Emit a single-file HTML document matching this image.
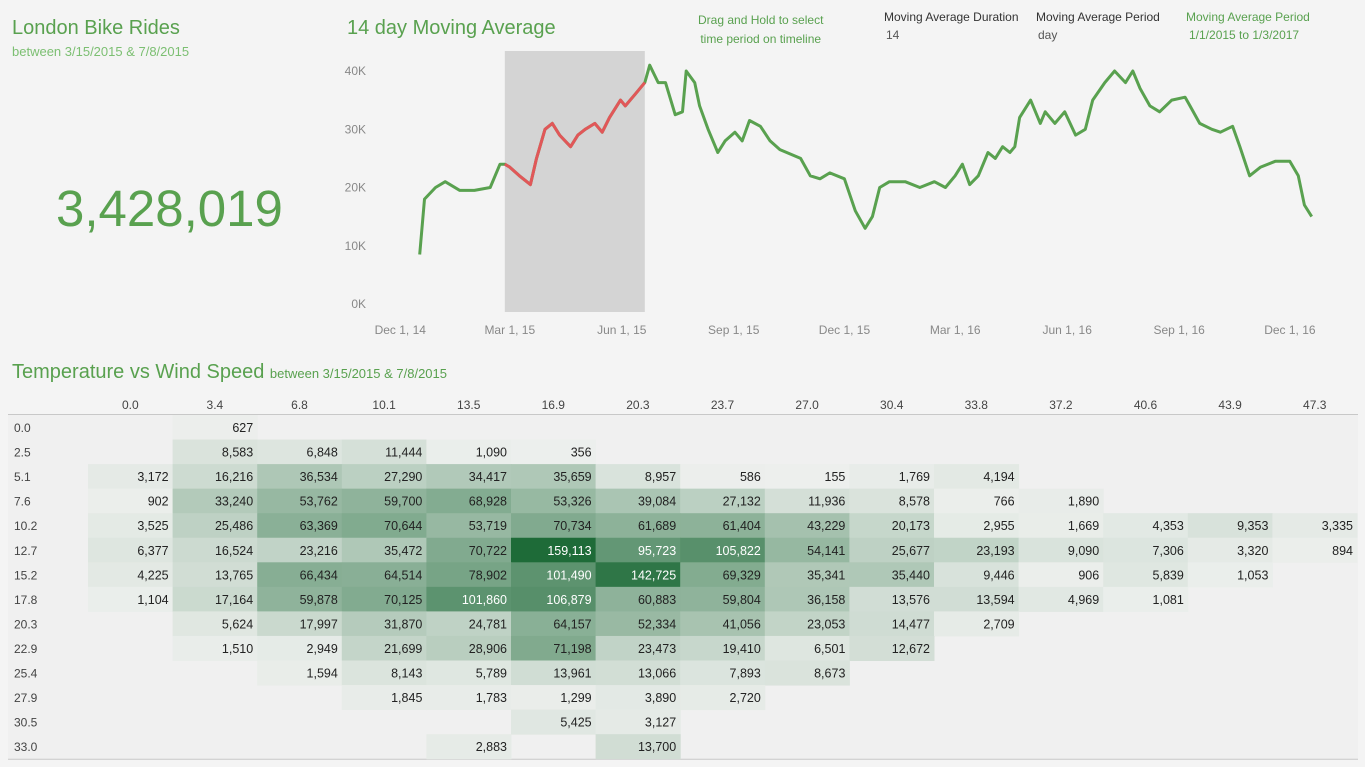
<!DOCTYPE html>
<html><head><meta charset="utf-8">
<style>
body{margin:0;width:1365px;height:767px;background:#f4f4f4;font-family:"Liberation Sans",sans-serif;overflow:hidden;position:relative}
.t{position:absolute;white-space:nowrap}
.g{color:#59a14f}
</style></head><body>
<div class="t g" style="left:12px;top:17px;font-size:20px">London Bike Rides</div>
<div class="t g" style="left:12px;top:44px;font-size:13px;color:#7cbf72">between 3/15/2015 &amp; 7/8/2015</div>
<div class="t g" style="left:56px;top:179px;font-size:51px">3,428,019</div>
<div class="t g" style="left:347px;top:17px;font-size:20px">14 day Moving Average</div>
<div class="t g" style="left:698px;top:11px;font-size:12px;text-align:center;line-height:19px">Drag and Hold to select<br>time period on timeline</div>
<div class="t" style="left:884px;top:10px;font-size:12px;color:#333">Moving Average Duration</div>
<div class="t" style="left:886px;top:28px;font-size:12px;color:#555">14</div>
<div class="t" style="left:1036px;top:10px;font-size:12px;color:#333">Moving Average Period</div>
<div class="t" style="left:1038px;top:28px;font-size:12px;color:#555">day</div>
<div class="t g" style="left:1186px;top:10px;font-size:12px">Moving Average Period</div>
<div class="t g" style="left:1189px;top:28px;font-size:12px">1/1/2015 to 1/3/2017</div>

<svg id="line" width="1365" height="345" style="position:absolute;left:0;top:0"></svg>

<div class="t g" style="left:12px;top:361px;font-size:20px">Temperature vs Wind Speed <span style="font-size:13px">between 3/15/2015 &amp; 7/8/2015</span></div>
<svg id="heat" width="1365" height="767" style="position:absolute;left:0;top:0"></svg>

<script>
const NS="http://www.w3.org/2000/svg";
// line chart data: day offset from 1/1/2015, value
const days=[3,7,16,24,36,48,61,69,73,77,85,94,99,106,112,118,127,133,139,147,153,159,168,172,180,188,192,199,205,213,219,222,229,233,240,248,254,262,268,274,283,291,299,316,324,332,340,352,361,369,375,381,389,402,414,426,435,443,449,455,462,470,476,482,488,492,496,505,513,517,525,533,542,550,556,566,574,583,589,595,603,611,621,632,636,644,654,661,671,677,685,694,706,718,725,730,736];
const vals=[8500,18000,20000,21000,19500,19500,20000,24000,24000,23500,22000,20500,25000,30000,31000,29000,27000,29000,30000,31000,29500,32000,35000,34000,36000,38000,41000,38000,38000,32500,33000,40000,38000,34000,30000,26000,28000,29500,28000,31500,30500,28000,26500,25000,22000,21500,22500,21500,16000,13000,15000,20000,21000,21000,20000,21000,20000,22000,24000,20500,22000,26000,25000,27000,26000,27000,32000,35000,31000,33000,31000,33000,29000,30000,35000,38000,40000,38000,40000,37000,34000,33000,35000,35500,34000,31000,30000,29500,30500,27000,22000,23500,24500,24500,22000,17000,15000];
const yTicks=[0,10000,20000,30000,40000];
const xTickLabels=["Dec 1, 14","Mar 1, 15","Jun 1, 15","Sep 1, 15","Dec 1, 15","Mar 1, 16","Jun 1, 16","Sep 1, 16","Dec 1, 16"];
const xTickDays=[-31,59,151,243,334,425,517,609,700];
const selStart=73, selEnd=188;
const X=d=>416+d*1.217, Y=v=>304-v*0.005825;
const L=document.getElementById('line');
function mk(p,tag,attrs,txt){const e=document.createElementNS(NS,tag);for(const k in attrs)e.setAttribute(k,attrs[k]);if(txt!=null)e.textContent=txt;p.appendChild(e);return e;}
let r=mk(L,'rect',{x:X(selStart),y:51,width:X(selEnd)-X(selStart),height:261,fill:'#d4d4d4'});


yTicks.forEach(v=>{let t=mk(L,'text',{x:366,y:Y(v)+4,'text-anchor':'end','font-size':12,fill:'#888','font-family':'Liberation Sans'},(v/1000)+'K');

});
xTickLabels.forEach((s,i)=>{let t=mk(L,'text',{x:X(xTickDays[i])+22,y:334,'text-anchor':'middle','font-size':12,fill:'#888','font-family':'Liberation Sans'},s);

});
let dAll=days.map((d,i)=>(i?'L':'M')+X(d).toFixed(1)+','+Y(vals[i]).toFixed(1)).join('');
let p=mk(L,'path',{d:dAll,fill:'none',stroke:'#59a14f','stroke-width':3,'stroke-linejoin':'round'});


let sel=[];days.forEach((d,i)=>{if(d>=selStart&&d<=selEnd)sel.push(X(d).toFixed(1)+','+Y(vals[i]).toFixed(1));});
let p2=mk(L,'path',{d:'M'+sel.join('L'),fill:'none',stroke:'#e15759','stroke-width':3,'stroke-linejoin':'round'});



// heatmap
const colLabels=["0.0","3.4","6.8","10.1","13.5","16.9","20.3","23.7","27.0","30.4","33.8","37.2","40.6","43.9","47.3"];
const rowLabels=["0.0","2.5","5.1","7.6","10.2","12.7","15.2","17.8","20.3","22.9","25.4","27.9","30.5","33.0"];
const N=null;
const cells=[
[N,627],
[N,8583,6848,11444,1090,356],
[3172,16216,36534,27290,34417,35659,8957,586,155,1769,4194],
[902,33240,53762,59700,68928,53326,39084,27132,11936,8578,766,1890],
[3525,25486,63369,70644,53719,70734,61689,61404,43229,20173,2955,1669,4353,9353,3335],
[6377,16524,23216,35472,70722,159113,95723,105822,54141,25677,23193,9090,7306,3320,894],
[4225,13765,66434,64514,78902,101490,142725,69329,35341,35440,9446,906,5839,1053],
[1104,17164,59878,70125,101860,106879,60883,59804,36158,13576,13594,4969,1081],
[N,5624,17997,31870,24781,64157,52334,41056,23053,14477,2709],
[N,1510,2949,21699,28906,71198,23473,19410,6501,12672],
[N,N,1594,8143,5789,13961,13066,7893,8673],
[N,N,N,1845,1783,1299,3890,2720],
[N,N,N,N,N,5425,3127],
[N,N,N,N,2883,N,13700]];
const H=document.getElementById('heat');
const cx0=88,cw=84.6,ry0=415,rh=24.55;
mk(H,'rect',{x:8,y:ry0,width:1350,height:rh*14,fill:'#f0f0f0'});
mk(H,'line',{x1:8,x2:1358,y1:ry0-0.5,y2:ry0-0.5,stroke:'#c8c8c8'});
mk(H,'line',{x1:8,x2:1358,y1:ry0+rh*14+0.5,y2:ry0+rh*14+0.5,stroke:'#c8c8c8'});
const mx=Math.max(...cells.flat().filter(v=>v!=null));
const lo=[238,240,238],hi=[30,107,56];
colLabels.forEach((s,i)=>{let t=mk(H,'text',{x:cx0+cw*i+cw/2,y:409,'text-anchor':'middle','font-size':12,fill:'#444','font-family':'Liberation Sans'},s);

});
rowLabels.forEach((s,j)=>{let t=mk(H,'text',{x:14,y:ry0+rh*j+17,'font-size':12,fill:'#444','font-family':'Liberation Sans'},s);

});
cells.forEach((row,j)=>row.forEach((v,i)=>{if(v==null)return;
 const t=Math.pow(v/mx,0.8);const c=lo.map((a,k)=>Math.round(a+(hi[k]-a)*t));
 let rc=mk(H,'rect',{x:cx0+cw*i,y:ry0+rh*j,width:cw+0.5,height:rh+0.5,fill:`rgb(${c})`});
 
 
 let tx=mk(H,'text',{x:cx0+cw*(i+1)-4,y:ry0+rh*j+17,'text-anchor':'end','font-size':12.5,fill:v>90000?'#fff':'#222','font-family':'Liberation Sans'},v.toLocaleString('en-US'));
 
 
}));
</script>
</body></html>
